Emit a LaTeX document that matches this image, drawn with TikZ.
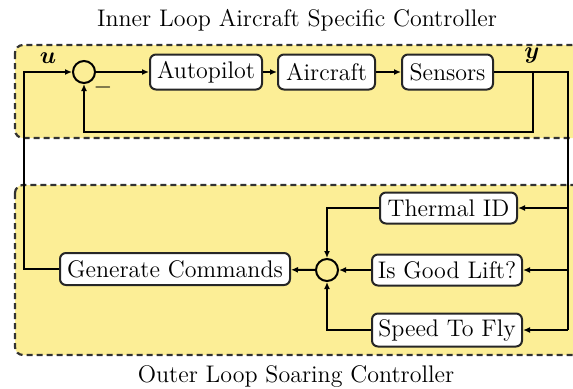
\documentclass[tikz,border=0pt]{standalone}
\usepackage{amsmath}
\usepackage{bm}
\usetikzlibrary{arrows.meta}
\definecolor{loopfill}{RGB}{252,238,150}
\definecolor{dashgray}{RGB}{50,50,50}
\begin{document}
\begin{tikzpicture}[x=0.5pt,y=-0.5pt,
  every node/.style={font=\fontsize{12}{14}\selectfont},
  block/.style={draw=black!85, line width=1pt, fill=white, rounded corners=3pt, inner sep=0pt, minimum height=#1},
  block/.default=17.5pt,
  sumnode/.style={draw=black, line width=1pt, circle, fill=loopfill, minimum size=11pt, inner sep=0pt},
  loopbox/.style={draw=dashgray, fill=loopfill, line width=1.1pt, dash pattern=on 3pt off 2pt, rounded corners=4pt},
  wire/.style={line width=1pt, draw=black},
  arr/.style={wire, -{Latex[length=3.5pt,width=3pt]}}
]
\useasboundingbox (0,0) rectangle (573,388);
\begin{scope}
\clip (0,0) rectangle (573,388);
\draw[loopbox] (15,45) rectangle (590,138);
\draw[loopbox] (15,185) rectangle (590,355);
\end{scope}

\node (title1) at (297,20) {Inner Loop Aircraft Specific Controller};
\node (title2) at (296,376) {Outer Loop Soaring Controller};

% inner loop
\node[sumnode] (s1) at (84,72) {};
\node[block, minimum width=56pt] (ap) at (206,72) {Autopilot};
\node[block, minimum width=48.5pt] (ac) at (326.5,72) {Aircraft};
\node[block, minimum width=45.5pt] (se) at (447.5,72) {Sensors};
\node (ulab) at (48,58) {$\bm{u}$};
\node (ylab) at (532,55) {$\bm{y}$};
\node (minus) at (103,87) {$-$};

% outer loop
\node[block=15.5pt, minimum width=68.5pt] (th) at (448.5,208) {Thermal ID};
\node[block=15.5pt, minimum width=75pt] (gl) at (447,270) {Is Good Lift?};
\node[block=16.5pt, minimum width=75pt] (sf) at (447,330) {Speed To Fly};
\node[sumnode] (s2) at (327,270) {};
\node[block=16pt, minimum width=115pt] (gc) at (175,269) {Generate Commands};

\coordinate (cl) at (24,269);
\coordinate (cu) at (24,72);
\coordinate (yr) at (568,72);
\coordinate (yj) at (533,72);
\coordinate (fb1) at (533,132);
\coordinate (fb2) at (84,132);
\coordinate (rth) at (568,208);
\coordinate (rgl) at (568,270);
\coordinate (rsf) at (568,330);

\draw[arr] (s1) -- (ap);
\draw[arr] (ap) -- (ac);
\draw[arr] (ac) -- (se);
\draw[wire] (se) -- (yr) -- (rsf);
\draw[arr] (yj) -- (fb1) -- (fb2) -- (s1);
\draw[arr] (gc.west) -- (cl) -- (cu) -- (s1);

\draw[arr] (rth) -- (th);
\draw[arr] (rgl) -- (gl);
\draw[arr] (rsf) -- (sf);
\draw[arr] (th.west) -| (s2);
\draw[arr] (gl) -- (s2);
\draw[arr] (sf.west) -| (s2);
\draw[arr] (s2) -- (gc);
\end{tikzpicture}
\end{document}
